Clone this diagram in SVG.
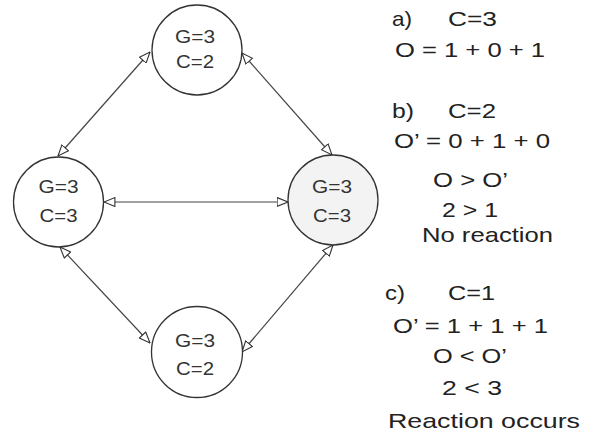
<svg xmlns="http://www.w3.org/2000/svg" width="593" height="433" viewBox="0 0 593 433">
  <style>
    .node { fill: #ffffff; stroke: #333333; stroke-width: 1.3; }
    .node.hl { fill: #f3f3f3; }
    .edge { stroke: #444444; stroke-width: 1.2; fill: none; marker-start: url(#tri); marker-end: url(#tri); }
    .lbl { font-family: "Liberation Sans", Arial, sans-serif; font-size: 18px; fill: #333333; text-anchor: middle; }
    .note { font-family: "Liberation Sans", Arial, sans-serif; font-size: 21px; fill: #222222; }
  </style>
  <defs>
    <marker id="tri" viewBox="0 0 12 10" refX="11.5" refY="5" markerWidth="12" markerHeight="10" markerUnits="userSpaceOnUse" orient="auto-start-reverse">
      <path d="M0.6,0.6 L11.5,5 L0.6,9.4 Z" fill="#ffffff" stroke="#333333" stroke-width="1.1"/>
    </marker>
  </defs>

  <!-- connectors -->
  <g id="connectors">
    <line class="edge" x1="150" y1="52" x2="58" y2="156"/>
    <line class="edge" x1="242" y1="53" x2="332" y2="155"/>
    <line class="edge" x1="60" y1="247" x2="150" y2="343"/>
    <line class="edge" x1="333" y1="245" x2="242" y2="352"/>
    <line class="edge" x1="104" y1="202" x2="288" y2="202"/>
  </g>

  <!-- nodes -->
  <g id="node-top">
    <circle class="node" cx="197" cy="50" r="45"/>
    <text class="lbl" x="195" y="43" textLength="40" lengthAdjust="spacingAndGlyphs">G=3</text>
    <text class="lbl" x="195" y="68" textLength="38" lengthAdjust="spacingAndGlyphs">C=2</text>
  </g>
  <g id="node-left">
    <circle class="node" cx="58.5" cy="202" r="45"/>
    <text class="lbl" x="58.5" y="193" textLength="40" lengthAdjust="spacingAndGlyphs">G=3</text>
    <text class="lbl" x="58.5" y="222" textLength="38" lengthAdjust="spacingAndGlyphs">C=3</text>
  </g>
  <g id="node-right">
    <circle class="node hl" cx="333" cy="200" r="45"/>
    <text class="lbl" x="332" y="193" textLength="40" lengthAdjust="spacingAndGlyphs">G=3</text>
    <text class="lbl" x="332" y="222" textLength="38" lengthAdjust="spacingAndGlyphs">C=3</text>
  </g>
  <g id="node-bottom">
    <circle class="node" cx="197" cy="352" r="45.5"/>
    <text class="lbl" x="195" y="347" textLength="40" lengthAdjust="spacingAndGlyphs">G=3</text>
    <text class="lbl" x="195" y="375" textLength="38" lengthAdjust="spacingAndGlyphs">C=2</text>
  </g>

  <!-- case notes -->
  <g id="notes">
    <text class="note" x="392" y="26" textLength="20" lengthAdjust="spacingAndGlyphs">a)</text>
    <text class="note" x="448" y="26" textLength="49" lengthAdjust="spacingAndGlyphs">C=3</text>
    <text class="note" x="395" y="57" textLength="150" lengthAdjust="spacingAndGlyphs">O = 1 + 0 + 1</text>

    <text class="note" x="392" y="118" textLength="22" lengthAdjust="spacingAndGlyphs">b)</text>
    <text class="note" x="448" y="118" textLength="48" lengthAdjust="spacingAndGlyphs">C=2</text>
    <text class="note" x="394" y="148" textLength="156" lengthAdjust="spacingAndGlyphs">O’ = 0 + 1 + 0</text>
    <text class="note" x="433" y="187" textLength="75" lengthAdjust="spacingAndGlyphs">O &gt; O’</text>
    <text class="note" x="442" y="217" textLength="56" lengthAdjust="spacingAndGlyphs">2 &gt; 1</text>
    <text class="note" x="422" y="242" textLength="131" lengthAdjust="spacingAndGlyphs">No reaction</text>

    <text class="note" x="385" y="300" textLength="20" lengthAdjust="spacingAndGlyphs">c)</text>
    <text class="note" x="448" y="300" textLength="47" lengthAdjust="spacingAndGlyphs">C=1</text>
    <text class="note" x="393" y="333" textLength="155" lengthAdjust="spacingAndGlyphs">O’ = 1 + 1 + 1</text>
    <text class="note" x="433" y="363" textLength="74" lengthAdjust="spacingAndGlyphs">O &lt; O’</text>
    <text class="note" x="442" y="395" textLength="60" lengthAdjust="spacingAndGlyphs">2 &lt; 3</text>
    <text class="note" x="388" y="428" textLength="192" lengthAdjust="spacingAndGlyphs">Reaction occurs</text>
  </g>
</svg>
